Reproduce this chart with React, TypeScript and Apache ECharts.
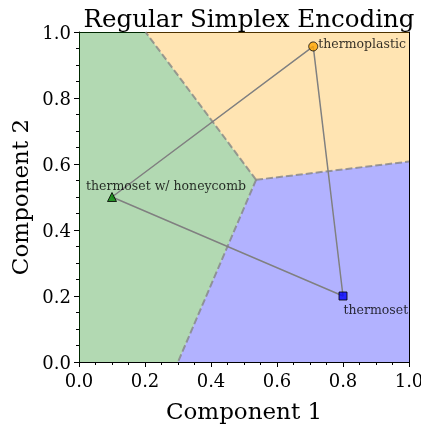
import React, { useEffect, useRef } from "react";
import * as echarts from "echarts";

const names = ["thermoset w/ honeycomb", "thermoset", "thermoplastic"];
const pointsX = [0.1, 0.8, 0.7098];
const pointsY = [0.5, 0.2, 0.9562];
const center: [number, number] = [0.5366, 0.5521];
const edgeTop: [number, number] = [0.2015, 1.0];
const edgeRight: [number, number] = [1.0, 0.6074];
const edgeBottom: [number, number] = [0.3, 0.0];

const greenRegion: [number, number][] = [[0, 0], edgeBottom, center, edgeTop, [0, 1]];
const orangeRegion: [number, number][] = [edgeTop, [1, 1], edgeRight, center];
const blueRegion: [number, number][] = [edgeBottom, [1, 0], edgeRight, center];

const ticks = [0, 0.2, 0.4, 0.6, 0.8, 1.0];

const FONT = "DejaVu Serif";

export default function App() {
  const ref = useRef<HTMLDivElement>(null);
  useEffect(() => {
    const chart = echarts.init(ref.current!, undefined, { renderer: "svg" });
    const regions = [
      { poly: greenRegion, color: "rgba(0,128,0,0.3)" },
      { poly: orangeRegion, color: "rgba(255,165,0,0.3)" },
      { poly: blueRegion, color: "rgba(0,0,255,0.3)" },
    ];
    const pts = names.map((n, i) => [pointsX[i], pointsY[i]]);
    const axisCommon = {
      type: "value" as const,
      min: ticks[0],
      max: ticks[ticks.length - 1],
      interval: 0.2,
      splitLine: { show: false },
    };
    const mk = (i: number, symbol: string, color: string, size: number, pos: any) => ({
      type: "scatter",
      data: [pts[i]],
      symbol,
      symbolSize: size,
      itemStyle: { color, borderColor: "#000", borderWidth: 1 },
      label: {
        show: true,
        formatter: names[i],
        position: "right",
        distance: 0,
        offset: pos,
        fontFamily: FONT,
        fontSize: 12.5,
        color: "#000",
      },
      z: 5,
    });
    chart.setOption({
      animation: false,
      title: {
        text: "Regular Simplex Encoding",
        left: 244,
        textAlign: "center",
        top: 1,
        textStyle: { fontFamily: FONT, fontSize: 24.5, fontWeight: "normal", color: "#000" },
      },
      grid: { left: 79, top: 32, width: 330, height: 330, outerBoundsMode: "none", containLabel: false },
      xAxis: [
        {
          ...axisCommon,
          position: "bottom",
          name: "Component 1",
          nameLocation: "middle",
          nameGap: 37,
          nameTextStyle: { fontFamily: FONT, fontSize: 23, color: "#000" },
          axisLine: { show: true, lineStyle: { color: "#000", width: 1 } },
          axisTick: { show: true, length: 5, lineStyle: { color: "#000" } },
          minorTick: { show: true, splitNumber: 4, length: 3, lineStyle: { color: "#000" } },
          axisLabel: { fontFamily: FONT, fontSize: 18, color: "#000", margin: 9, formatter: (v: number) => v.toFixed(1) },
        },
        {
          ...axisCommon,
          position: "top",
          axisLine: { show: true, onZero: false, lineStyle: { color: "#000", width: 1 } },
          axisTick: { show: false },
          axisLabel: { show: false },
        },
      ],
      yAxis: [
        {
          ...axisCommon,
          position: "left",
          name: "Component 2",
          nameLocation: "middle",
          nameGap: 48,
          nameTextStyle: { fontFamily: FONT, fontSize: 23, color: "#000" },
          axisLine: { show: true, lineStyle: { color: "#000", width: 1 } },
          axisTick: { show: true, length: 5, lineStyle: { color: "#000" } },
          minorTick: { show: true, splitNumber: 4, length: 3, lineStyle: { color: "#000" } },
          axisLabel: { fontFamily: FONT, fontSize: 18, color: "#000", margin: 8, formatter: (v: number) => v.toFixed(1) },
        },
        {
          ...axisCommon,
          position: "right",
          axisLine: { show: true, onZero: false, lineStyle: { color: "#000", width: 1 } },
          axisTick: { show: false },
          axisLabel: { show: false },
        },
      ],
      series: [
        {
          type: "custom",
          data: regions.map((r, i) => i),
          renderItem: (params: any, api: any) => {
            const r = regions[params.dataIndex];
            return {
              type: "polygon",
              shape: { points: r.poly.map((p) => api.coord(p)) },
              style: { fill: r.color, stroke: "none" },
            };
          },
          z: 1,
          silent: true,
        },
        ...[edgeTop, edgeRight, edgeBottom].map((e) => ({
          type: "line",
          data: [center, e],
          symbol: "none",
          lineStyle: { color: "rgba(128,128,128,0.75)", width: 2, type: [7, 3] },
          z: 2,
        })),
        {
          type: "line",
          data: [pts[0], pts[1], pts[2], pts[0]],
          symbol: "none",
          lineStyle: { color: "#808080", width: 1.5 },
          z: 3,
        },
        mk(0, "triangle", "#008000", 9, [-31, -12]),
        mk(1, "rect", "#0000ff", 8, [-4, 13]),
        mk(2, "circle", "#ffa500", 9, [0, -3]),
      ],
    });
    return () => chart.dispose();
  }, []);
  return <div ref={ref} style={{ position: "fixed", left: 0, top: 0, width: 421, height: 427 }} />;
}
